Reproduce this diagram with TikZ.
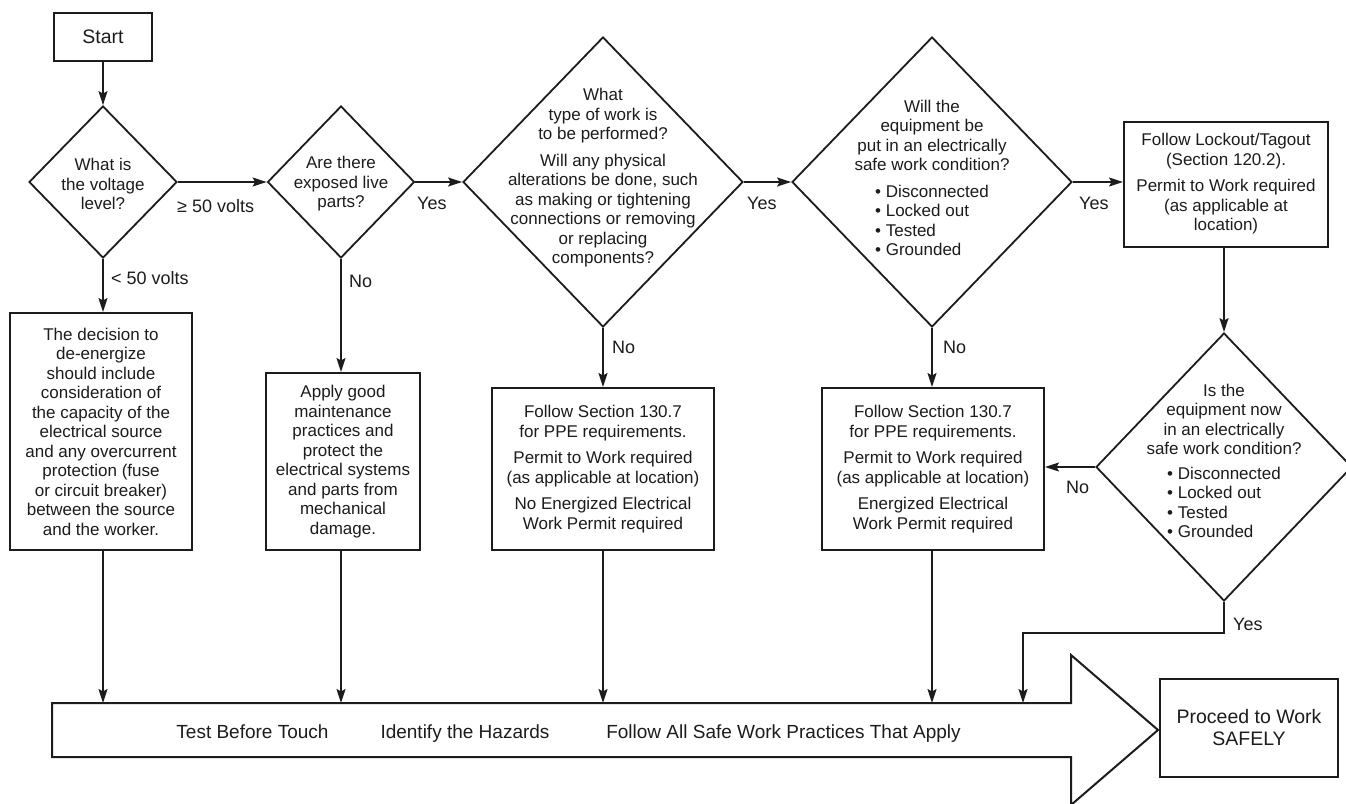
\documentclass[tikz,border=0pt]{standalone}
\usepackage{fontspec}
\setmainfont{Liberation Sans}
\usetikzlibrary{shapes.geometric,arrows.meta}
\definecolor{ink}{RGB}{30,27,28}
\newcommand\fmid{\fontsize{17}{19.5}\selectfont}
\newcommand\flab{\fontsize{18}{20}\selectfont}
\newcommand\fbig{\fontsize{19.5}{22}\selectfont}
\newcommand\fband{\fontsize{19}{22}\selectfont}
\tikzset{
  box/.style={draw=ink, line width=2pt, rectangle, align=center, inner sep=0pt, text=ink, font=\fmid},
  dia/.style={draw=ink, line width=1.8pt, diamond, inner sep=0pt},
  txt/.style={align=center, inner sep=0pt, text=ink, font=\fmid},
  lbl/.style={inner sep=0pt, anchor=west, text=ink, font=\flab},
  btxt/.style={inner sep=0pt, anchor=base, text=ink, font=\fband},
  arr/.style={draw=ink, line width=1.5pt, -{Stealth[length=14pt,width=9pt,inset=2.5pt]}},
}
\begin{document}
\begin{tikzpicture}[x=1pt,y=-1pt]
\useasboundingbox (0,0) rectangle (1346,803);
\fill[white] (0,0) rectangle (1346,803);

% start
\node[box, font=\fbig, minimum width=98, minimum height=48] (start) at (103,37) {Start};

% diamonds
\node[dia, minimum width=148, minimum height=152] (d1) at (103,182) {};
\node[txt] (d1t) at (103,184) {What is\\the voltage\\level?};
\node[dia, minimum width=147, minimum height=152] (d2) at (341,182) {};
\node[txt] (d2t) at (341,184) {Are there\\exposed live\\parts?};
\node[dia, minimum width=280, minimum height=290] (d3) at (603,182) {};
\node[txt] (d3t) at (603,178) {What\\type of work is\\to be performed?\\[7pt]Will any physical\\alterations be done, such\\as making or tightening\\connections or removing\\or replacing\\components?};
\node[dia, minimum width=280, minimum height=290] (d4) at (932,182) {};
\node[txt] (d4t) at (932,181) {Will the\\equipment be\\put in an electrically\\safe work condition?\\[7pt]\begin{tabular}[t]{@{}l@{}}• Disconnected\\• Locked out\\• Tested\\• Grounded\end{tabular}};
\node[dia, minimum width=256, minimum height=268] (d5) at (1224,467) {};
\node[txt] (d5t) at (1224,464) {Is the\\equipment now\\in an electrically\\safe work condition?\\[5pt]\begin{tabular}[t]{@{}l@{}}• Disconnected\\• Locked out\\• Tested\\• Grounded\end{tabular}};

% boxes
\node[box, minimum width=204, minimum height=125] (lock) at (1226,184) {Follow Lockout/Tagout\\(Section 120.2).\\[7pt]Permit to Work required\\(as applicable at\\location)};
\node[box, minimum width=182, minimum height=237] (b1) at (101,431.5) {The decision to\\de-energize\\should include\\consideration of\\the capacity of the\\electrical source\\and any overcurrent\\protection (fuse\\or circuit breaker)\\between the source\\and the worker.};
\node[box, minimum width=154, minimum height=177] (b2) at (343,461.5) {Apply good\\maintenance\\practices and\\protect the\\electrical systems\\and parts from\\mechanical\\damage.};
\node[box, minimum width=222, minimum height=162] (b3) at (603,469) {Follow Section 130.7\\for PPE requirements.\\[7pt]Permit to Work required\\(as applicable at location)\\[7pt]No Energized Electrical\\Work Permit required};
\node[box, minimum width=222, minimum height=162] (b4) at (933,469) {Follow Section 130.7\\for PPE requirements.\\[7pt]Permit to Work required\\(as applicable at location)\\[7pt]Energized Electrical\\Work Permit required};

% band arrow
\coordinate (bandtop) at (52,703);
\draw[ink, line width=2pt, line join=miter] (52,703) -- (1071,703) -- (1071,655) -- (1158,730) -- (1071,805) -- (1071,757) -- (52,757) -- cycle;
\node[btxt] (t1) at (252.5,738) {Test Before Touch};
\node[btxt] (t2) at (465,738) {Identify the Hazards};
\node[btxt] (t3) at (783.5,738) {Follow All Safe Work Practices That Apply};
\node[box, font=\fbig, minimum width=178, minimum height=98] (proc) at (1249,728) {Proceed to Work\\SAFELY};

% connectors
\draw[arr] (start.south) -- (start.south |- d1.north);
\draw[arr] (d1.east) -- (d2.west);
\draw[arr] (d2.east) -- (d3.west);
\draw[arr] (d3.east) -- (d4.west);
\draw[arr] (d4.east) -- (d4.east -| lock.west);
\draw[arr] (lock.south -| d5.north) -- (d5.north);
\draw[arr] (d5.west) -- (d5.west -| b4.east);
\draw[arr] (d1.south) -- (d1.south |- b1.north);
\draw[arr] (d2.south) -- (d2.south |- b2.north);
\draw[arr] (d3.south) -- (d3.south |- b3.north);
\draw[arr] (d4.south) -- (d4.south |- b4.north);
\draw[arr] (b1.south -| d1.south) -- (d1.south |- bandtop);
\draw[arr] (b2.south -| d2.south) -- (d2.south |- bandtop);
\draw[arr] (b3.south) -- (b3.south |- bandtop);
\draw[arr] (b4.south -| d4.south) -- (d4.south |- bandtop);
\coordinate (yj) at (1023,633);
\draw[arr] (d5.south) |- (yj) -- (yj |- bandtop);

% labels
\node[lbl] (l1) at (177,206) {≥ 50 volts};
\node[lbl] (l2) at (111,278) {< 50 volts};
\node[lbl] (l3) at (417,203) {Yes};
\node[lbl] (l4) at (349,281) {No};
\node[lbl] (l5) at (747,203) {Yes};
\node[lbl] (l6) at (612,347) {No};
\node[lbl] (l7) at (1079,203) {Yes};
\node[lbl] (l8) at (943,347) {No};
\node[lbl] (l9) at (1066,487) {No};
\node[lbl] (l10) at (1233,624) {Yes};
\end{tikzpicture}
\end{document}
